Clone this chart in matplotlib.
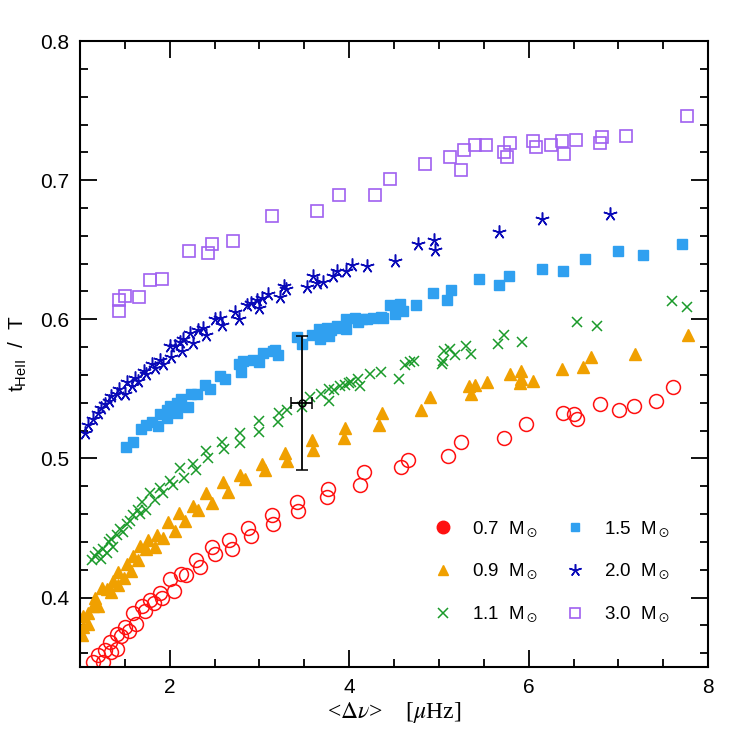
import matplotlib
matplotlib.use("Agg")
import matplotlib.pyplot as plt
from matplotlib.lines import Line2D
from matplotlib.ticker import MultipleLocator

plt.rcParams['font.family'] = ['Liberation Sans', 'DejaVu Sans']
plt.rcParams['mathtext.fontset'] = 'stix'

# 0.7 Msun
dnu07 = [1.15, 1.20, 1.26, 1.28, 1.35, 1.33, 1.41, 1.41, 1.46, 1.50, 1.55, 1.59, 1.63, 1.69,
         1.72, 1.78, 1.82, 1.89, 1.92, 2.00, 2.05, 2.13, 2.18, 2.29, 2.34, 2.47, 2.51, 2.66,
         2.69, 2.87, 2.91, 3.14, 3.15, 3.42, 3.43, 3.76, 3.75, 4.17, 4.12, 4.66, 4.58, 5.10,
         5.25, 5.73, 5.97, 6.38, 6.50, 6.54, 6.79, 7.01, 7.17, 7.42, 7.61]
t07 = [0.354, 0.359, 0.354, 0.362, 0.361, 0.368, 0.363, 0.374, 0.372, 0.379, 0.376, 0.389,
       0.381, 0.394, 0.390, 0.398, 0.396, 0.403, 0.400, 0.413, 0.405, 0.417, 0.416, 0.427,
       0.422, 0.436, 0.431, 0.441, 0.435, 0.450, 0.444, 0.459, 0.453, 0.469, 0.462, 0.478,
       0.472, 0.490, 0.481, 0.499, 0.494, 0.502, 0.512, 0.515, 0.525, 0.533, 0.532, 0.528,
       0.539, 0.535, 0.538, 0.541, 0.551]

# 0.9 Msun
dnu09 = [1.02, 1.03, 1.09, 1.03, 1.09, 1.15, 1.20, 1.17, 1.25, 1.30, 1.35, 1.37, 1.42, 1.42,
         1.49, 1.52, 1.57, 1.59, 1.65, 1.67, 1.74, 1.76, 1.84, 1.86, 1.93, 1.98, 2.06, 2.10,
         2.17, 2.26, 2.32, 2.40, 2.47, 2.59, 2.65, 2.78, 2.84, 3.03, 3.06, 3.28, 3.31, 3.59,
         3.60, 3.95, 3.94, 4.37, 4.33, 4.80, 4.90, 5.33, 5.40, 5.36, 5.54, 5.79, 5.91, 5.92,
         5.90, 6.05, 6.37, 6.60, 6.70, 7.18, 7.78]
t09 = [0.373, 0.379, 0.381, 0.387, 0.389, 0.394, 0.394, 0.400, 0.407, 0.406, 0.404, 0.412,
       0.409, 0.418, 0.414, 0.424, 0.419, 0.430, 0.427, 0.437, 0.435, 0.441, 0.436, 0.445,
       0.443, 0.454, 0.448, 0.461, 0.455, 0.466, 0.463, 0.475, 0.468, 0.483, 0.476, 0.488,
       0.485, 0.496, 0.492, 0.504, 0.498, 0.513, 0.506, 0.522, 0.515, 0.533, 0.524, 0.535,
       0.544, 0.552, 0.553, 0.546, 0.555, 0.561, 0.563, 0.557, 0.554, 0.556, 0.564, 0.566,
       0.573, 0.575, 0.589]

# 1.1 Msun
dnu11 = [1.13, 1.17, 1.20, 1.24, 1.26, 1.30, 1.32, 1.35, 1.37, 1.41, 1.45, 1.48, 1.52, 1.56,
         1.59, 1.65, 1.67, 1.69, 1.74, 1.78, 1.84, 1.89, 1.93, 2.00, 2.04, 2.11, 2.16, 2.26,
         2.29, 2.40, 2.43, 2.58, 2.60, 2.78, 2.78, 2.99, 2.99, 3.22, 3.21, 3.31, 3.47, 3.56,
         3.69, 3.78, 3.77, 3.83, 3.90, 3.95, 4.00, 4.02, 4.10, 4.12, 4.23, 4.36, 4.55, 4.62,
         4.68, 4.72, 5.03, 5.04, 5.06, 5.12, 5.18, 5.30, 5.36, 5.66, 5.72, 5.93, 6.54, 6.76,
         7.60, 7.76]
t11 = [0.427, 0.430, 0.433, 0.428, 0.435, 0.432, 0.440, 0.442, 0.436, 0.445, 0.449, 0.447,
       0.453, 0.455, 0.459, 0.463, 0.460, 0.469, 0.463, 0.475, 0.470, 0.479, 0.475, 0.484,
       0.481, 0.493, 0.486, 0.496, 0.492, 0.505, 0.500, 0.512, 0.507, 0.518, 0.511, 0.527,
       0.519, 0.533, 0.526, 0.535, 0.537, 0.544, 0.546, 0.541, 0.550, 0.549, 0.552, 0.553,
       0.554, 0.555, 0.557, 0.552, 0.561, 0.562, 0.557, 0.567, 0.569, 0.570, 0.568, 0.570,
       0.577, 0.579, 0.574, 0.581, 0.575, 0.582, 0.589, 0.584, 0.598, 0.595, 0.613, 0.609]

# 1.5 Msun
dnu15 = [1.51, 1.59, 1.68, 1.74, 1.80, 1.87, 1.89, 1.97, 1.97, 2.00, 2.08, 2.08, 2.13, 2.20,
         2.24, 2.30, 2.39, 2.45, 2.56, 2.62, 2.77, 2.82, 2.80, 2.93, 3.00, 3.04, 3.15, 3.17,
         3.21, 3.42, 3.47, 3.59, 3.66, 3.68, 3.75, 3.77, 3.80, 3.86, 3.90, 3.97, 3.97, 4.07,
         4.10, 4.14, 4.20, 4.27, 4.36, 4.38, 4.45, 4.51, 4.57, 4.60, 4.75, 4.93, 5.09, 5.14,
         5.45, 5.67, 5.78, 6.15, 6.38, 6.63, 6.99, 7.27, 7.71]
t15 = [0.508, 0.512, 0.521, 0.524, 0.526, 0.523, 0.532, 0.535, 0.529, 0.538, 0.540, 0.533,
       0.543, 0.537, 0.546, 0.546, 0.553, 0.550, 0.559, 0.557, 0.568, 0.570, 0.562, 0.571,
       0.569, 0.576, 0.577, 0.578, 0.574, 0.587, 0.582, 0.589, 0.593, 0.586, 0.594, 0.588,
       0.592, 0.595, 0.594, 0.600, 0.593, 0.601, 0.598, 0.600, 0.600, 0.601, 0.602, 0.601,
       0.610, 0.604, 0.611, 0.606, 0.610, 0.619, 0.614, 0.621, 0.629, 0.625, 0.631, 0.636,
       0.635, 0.643, 0.649, 0.646, 0.654]

# 2.0 Msun
dnu20 = [1.06, 1.09, 1.15, 1.20, 1.24, 1.28, 1.32, 1.35, 1.41, 1.44, 1.50, 1.52, 1.58, 1.61,
         1.65, 1.71, 1.74, 1.80, 1.84, 1.89, 1.93, 2.00, 2.02, 2.06, 2.11, 2.15, 2.14, 2.23,
         2.26, 2.32, 2.37, 2.41, 2.50, 2.56, 2.58, 2.73, 2.77, 2.86, 2.91, 2.97, 2.99, 3.03,
         3.10, 3.23, 3.27, 3.30, 3.53, 3.60, 3.64, 3.71, 3.82, 3.86, 3.97, 4.03, 4.20, 4.51,
         4.77, 4.94, 4.96, 5.67, 6.15, 6.91]
t20 = [0.518, 0.524, 0.528, 0.533, 0.536, 0.539, 0.541, 0.545, 0.546, 0.550, 0.546, 0.555,
       0.552, 0.558, 0.556, 0.563, 0.561, 0.568, 0.565, 0.571, 0.568, 0.581, 0.573, 0.581,
       0.584, 0.586, 0.577, 0.590, 0.583, 0.592, 0.594, 0.589, 0.600, 0.601, 0.596, 0.605,
       0.600, 0.610, 0.612, 0.614, 0.608, 0.615, 0.618, 0.616, 0.624, 0.622, 0.623, 0.631,
       0.626, 0.627, 0.631, 0.635, 0.635, 0.639, 0.638, 0.642, 0.654, 0.657, 0.650, 0.663,
       0.672, 0.676]

# 3.0 Msun
dnu30 = [1.43, 1.43, 1.50, 1.66, 1.78, 1.91, 2.22, 2.43, 2.47, 2.71, 3.14, 3.64, 3.89, 4.29,
         4.45, 4.85, 5.12, 5.25, 5.28, 5.40, 5.53, 5.73, 5.76, 5.79, 6.05, 6.08, 6.25, 6.37,
         6.39, 6.53, 6.80, 6.82, 7.09, 7.76]
t30 = [0.606, 0.614, 0.617, 0.616, 0.628, 0.629, 0.649, 0.648, 0.654, 0.656, 0.674, 0.678,
       0.689, 0.689, 0.701, 0.712, 0.717, 0.707, 0.722, 0.725, 0.725, 0.720, 0.717, 0.727,
       0.728, 0.724, 0.725, 0.728, 0.719, 0.729, 0.727, 0.731, 0.732, 0.746]

# observed point with error bars
obs_dnu, obs_t = 3.47, 0.540
obs_dnu_err, obs_t_err = 0.12, 0.048

fig = plt.figure(figsize=(7.47, 7.47), dpi=100)
ax = fig.add_axes([0.107, 0.107, 0.841, 0.838])

c07 = '#ff1010'
c09 = '#f0a000'
c11 = '#1a9a2a'
c15 = '#30a0f0'
c20 = '#0a0ab8'
c30 = '#a060f0'

ax.plot(dnu07, t07, 'o', ms=10, mfc='none', mec=c07, mew=1.1, ls='none')
ax.plot(dnu09, t09, '^', ms=8, color=c09, ls='none')
ax.plot(dnu11, t11, 'x', ms=7.5, color=c11, mew=1.1, ls='none')
ax.plot(dnu15, t15, 's', ms=6.5, color=c15, ls='none')
ax.plot(dnu20, t20, marker=(5, 2, 0), ms=10, color=c20, mew=1.1, ls='none')
ax.plot(dnu30, t30, 's', ms=8.5, mfc='none', mec=c30, mew=1.2, ls='none')

ax.errorbar([obs_dnu], [obs_t], xerr=[obs_dnu_err], yerr=[obs_t_err], fmt='o',
            ms=5, mfc='none', mec='black', ecolor='black', elinewidth=1.3, capsize=4,
            capthick=1.3, mew=1.1)

ax.set_xlim(1.0, 8.0)
ax.set_ylim(0.35, 0.8)
ax.xaxis.set_major_locator(MultipleLocator(2))
ax.xaxis.set_minor_locator(MultipleLocator(0.5))
ax.yaxis.set_major_locator(MultipleLocator(0.1))
ax.yaxis.set_minor_locator(MultipleLocator(0.02))
ax.tick_params(which='both', direction='in', top=True, right=True, labelsize=15, width=1.3)
ax.tick_params(which='major', length=12, pad=8)
ax.tick_params(which='minor', length=6)
ax.set_yticks([0.4, 0.5, 0.6, 0.7, 0.8])
ax.set_yticklabels(['0.4', '0.5', '0.6', '0.7', '0.8'])
ax.set_xticks([2, 4, 6, 8])
ax.set_xticklabels(['2', '4', '6', '8'])
for s in ax.spines.values():
    s.set_linewidth(1.5)

ax.set_xlabel(r'<$\mathrm{\Delta}\nu$>    [$\mu$Hz]', fontsize=17,
              fontfamily=['Liberation Serif', 'DejaVu Serif'], labelpad=2)
ax.set_ylabel(r'$\mathregular{t_{HeII}}$  /  T', fontsize=15, labelpad=8)

handles = [
    Line2D([], [], marker='o', ls='none', ms=9, color=c07),
    Line2D([], [], marker='^', ls='none', ms=7, color=c09),
    Line2D([], [], marker='x', ls='none', ms=7, color=c11, mew=1.1),
    Line2D([], [], marker='s', ls='none', ms=6, color=c15),
    Line2D([], [], marker=(5, 2, 0), ls='none', ms=9, color=c20, mew=1.1),
    Line2D([], [], marker='s', ls='none', ms=7, mfc='none', mec=c30, mew=1.2),
]
labels = [r'0.7  M$_\odot$', r'0.9  M$_\odot$', r'1.1  M$_\odot$',
          r'1.5  M$_\odot$', r'2.0  M$_\odot$', r'3.0  M$_\odot$']
ax.legend(handles, labels, ncol=2, frameon=False, loc='lower right', fontsize=13.5,
          bbox_to_anchor=(0.965, 0.04), handletextpad=0.8, columnspacing=1.2,
          labelspacing=1.2, handlelength=1.5)

fig.savefig('out.png', dpi=100)
